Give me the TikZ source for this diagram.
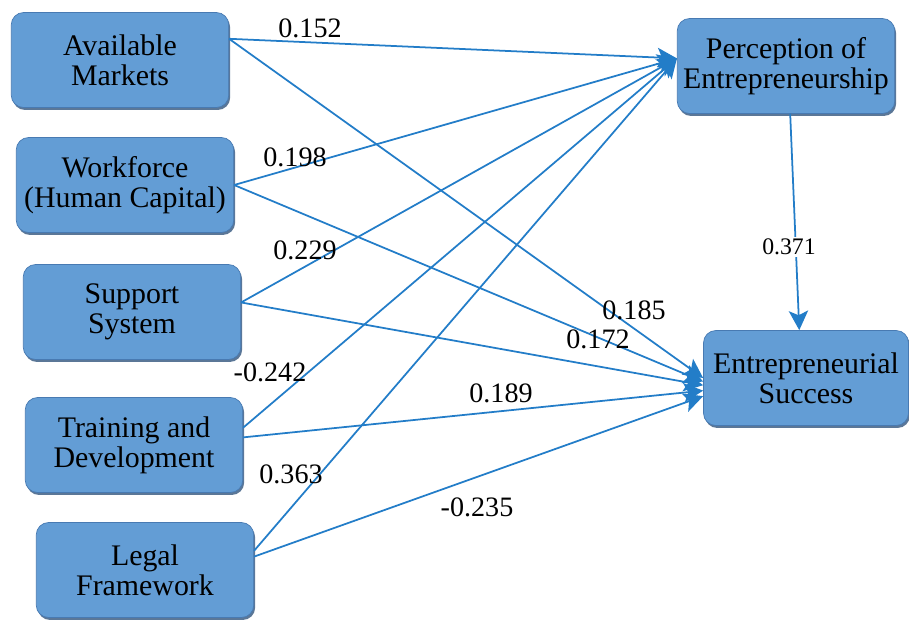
\documentclass[tikz,border=0pt]{standalone}
\usepackage{fontspec}
\newfontfamily\timesfont{Liberation Serif}
\usetikzlibrary{arrows.meta, shadows}
\definecolor{boxblue}{RGB}{99,157,213}
\definecolor{boxedge}{RGB}{72,122,178}
\definecolor{linkblue}{RGB}{35,125,200}

\begin{document}
\begin{tikzpicture}[x=0.02cm, y=-0.02cm,
		every node/.style={font=\timesfont\fontsize{16}{17}\selectfont},
		factor/.style={draw=boxedge, fill=boxblue, rounded corners=7pt, align=center,
			minimum width=4.35cm, minimum height=1.9cm, inner sep=2pt,
			font=\timesfont\fontsize{17}{17}\selectfont,
			drop shadow={shadow xshift=0.8pt, shadow yshift=-1.4pt, fill=boxedge!70!black, opacity=0.8}},
		link/.style={draw=linkblue, line width=1pt, -{Stealth[length=11pt, width=11pt, inset=2.5pt]}},
		coef/.style={inner sep=1pt}]
		\useasboundingbox (0,0) rectangle (909,623);
		% factors
		\node[factor] (am) at (120,60) {Available\\Markets};
		\node[factor] (wf) at (125,185) {Workforce\\(Human Capital)};
		\node[factor] (ss) at (132,312) {Support\\System};
		\node[factor] (td) at (134,445) {Training and\\Development};
		\node[factor] (lf) at (145,570) {Legal\\Framework};
		\node[factor] (pe) at (786,66) {Perception of\\Entrepreneurship};
		\node[factor, minimum width=4.1cm] (es) at (806,378) {Entrepreneurial\\Success};
		% paths
		\draw[link] (am.11) -- (pe.176); \draw[link] (am.11) -- (es.180);
		\draw[link] (wf.east) -- (pe.176); \draw[link] (wf.east) -- (es.182);
		\draw[link] (ss.5) -- (pe.176); \draw[link] (ss.5) -- (es.184);
		\draw[link] (td.9) -- (pe.176); \draw[link] (td.4) -- (es.187);
		\draw[link] (lf.10) -- (pe.176); \draw[link] (lf.7) -- (es.190);
		\draw[link] (pe.-85) -- (es.98);
		% coefficients
		\node[coef] (c1) at (310,28) {0.152};
		\node[coef] (c2) at (295,157) {0.198};
		\node[coef] (c3) at (305,250) {0.229};
		\node[coef] (c4) at (270,372) {-0.242};
		\node[coef] (c5) at (291,474) {0.363};
		\node[coef] (c6) at (501,393) {0.189};
		\node[coef] (c7) at (477,507) {-0.235};
		\node[coef] (c8) at (634,310) {0.185};
		\node[coef] (c9) at (598,339) {0.172};
		\node[coef, fill=white, font=\timesfont\fontsize{13.5}{14}\selectfont] (c10) at (789,247) {0.371};
	\end{tikzpicture}
\end{document}
